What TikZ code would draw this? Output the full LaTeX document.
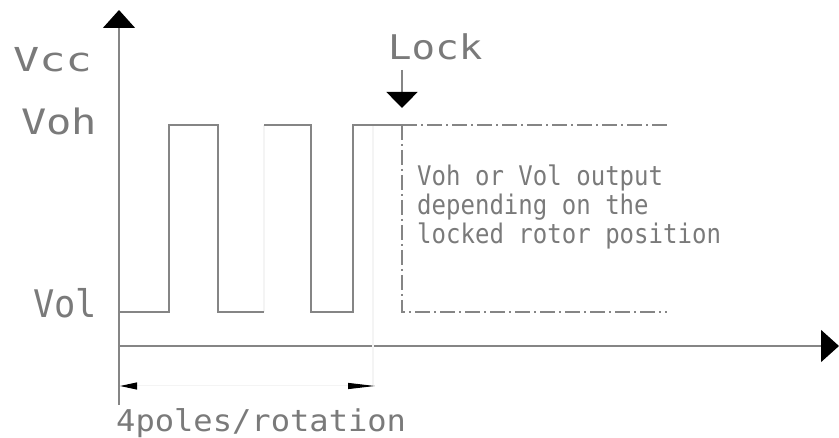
\documentclass[tikz,border=0pt]{standalone}
\usepackage{fontspec}
\setmonofont{DejaVu Sans Mono}
\usetikzlibrary{arrows.meta}
\definecolor{linegray}{HTML}{858585}
\definecolor{txtgray}{HTML}{7A7A7A}
\definecolor{faint}{HTML}{F4F4F4}
\begin{document}
\begin{tikzpicture}[x=1pt,y=-1pt,
  wave/.style={draw=linegray,line width=1.4pt,line join=miter},
  dashdot/.style={draw=linegray,line width=1.3pt,dash pattern=on 15pt off 4pt on 2pt off 4pt},
  axis/.style={draw=linegray,line width=1.4pt},
  bigtip/.style={-{Triangle[length=18pt,width=32pt,color=black]}},
  lbl/.style={anchor=base west,inner sep=0pt,text=txtgray}]
\useasboundingbox (0,0) rectangle (839,438);
% axes
\coordinate (ybot) at (119,405);
\coordinate (ytop) at (119,10);
\coordinate (xl) at (119,346);
\coordinate (xr) at (839,346);
\draw[axis,bigtip] (ybot) -- (ytop);
\draw[axis,bigtip] (xl) -- (xr);
% waveform
\coordinate (w0) at (119,312);
\coordinate (w1) at (169,312);
\coordinate (w2) at (169,125);
\coordinate (w3) at (218,125);
\coordinate (w4) at (218,312);
\coordinate (w5) at (264,312);
\coordinate (w6) at (264,125);
\coordinate (w7) at (311,125);
\coordinate (w8) at (311,312);
\coordinate (w9) at (353,312);
\coordinate (w10) at (353,125);
\coordinate (w11) at (402,125);
\coordinate (w12) at (402,312);
\coordinate (e1) at (667,125);
\coordinate (e2) at (667,312);
\coordinate (f0) at (373,125);
\coordinate (f1) at (373,386);
\draw[faint,line width=1.2pt] (w5) -- (w6);
\draw[faint,line width=1.2pt] (f0) -- (f1);
\draw[wave] (w0) -- (w1) -- (w2) -- (w3) -- (w4) -- (w5);
\draw[wave] (w6) -- (w7) -- (w8) -- (w9) -- (w10) -- (w11);
\draw[dashdot] (w11) -- (e1);
\draw[dashdot] (w11) -- (w12) -- (e2);
% lock arrow
\coordinate (lk0) at (402,70);
\coordinate (lk1) at (402,108);
\draw[axis,-{Triangle[length=16pt,width=31pt,color=black]}] (lk0) -- (lk1);
% dimension arrow
\coordinate (d0) at (120,386);
\coordinate (d1) at (375,386);
\draw[faint,line width=1pt,{Triangle[length=17pt,width=7pt,color=black]}-{Triangle[length=27pt,width=6pt,color=black]}] (d0) -- (d1);
% labels
\node[lbl,font=\ttfamily\fontsize{33}{33}\selectfont] (vcc) at (13,72) {\scalebox{1.32}[1]{Vcc}};
\node[lbl,font=\ttfamily\fontsize{35}{35}\selectfont] (voh) at (21,135) {\scalebox{1.2}[1]{Voh}};
\node[lbl,font=\ttfamily\fontsize{38}{38}\selectfont] (vol) at (33,318) {\scalebox{0.93}[1]{Vol}};
\node[lbl,font=\ttfamily\fontsize{34}{34}\selectfont] (lock) at (388,60) {\scalebox{1.15}[1]{Lock}};
\node[lbl,font=\ttfamily\fontsize{27}{27}\selectfont] (p1) at (417,186) {\scalebox{0.89}[1]{Voh or Vol output}};
\node[lbl,font=\ttfamily\fontsize{27}{27}\selectfont] (p2) at (417,215) {\scalebox{0.89}[1]{depending on the}};
\node[lbl,font=\ttfamily\fontsize{27}{27}\selectfont] (p3) at (417,244) {\scalebox{0.89}[1]{locked rotor position}};
\node[lbl,font=\ttfamily\fontsize{30}{30}\selectfont] (poles) at (116,432) {\scalebox{1.07}[1]{4poles/rotation}};
\end{tikzpicture}
\end{document}
